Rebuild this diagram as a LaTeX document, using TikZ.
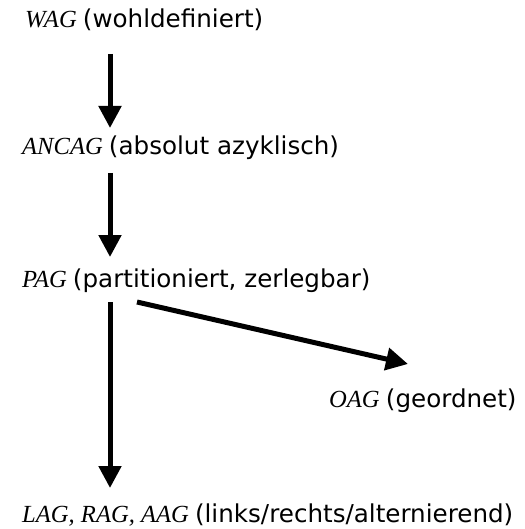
\documentclass[tikz,border=0pt]{standalone}
\usepackage{fontspec}
\setmainfont{Liberation Serif}
\newfontfamily\casual{DejaVu Sans}
\usetikzlibrary{arrows.meta,calc}

\tikzset{
  lbl/.style={anchor=base west, inner sep=0pt,
    font=\fontsize{24.6}{28}\selectfont},
  arr/.style={line width=5pt, -{Triangle[length=22pt,width=22pt]}}
}
% class name in italics, description in a plain sans face
\newcommand{\agclass}[2]{\textit{#1} {\casual #2}}

\begin{document}
\begin{tikzpicture}[x=1pt,y=-1pt]
  \useasboundingbox (0,0) rectangle (524,529);

  \node[lbl] (wag)   at (25,28)   {\agclass{WAG}{(wohldefiniert)}};
  \node[lbl] (ancag) at (22,155)  {\agclass{ANCAG}{(absolut azyklisch)}};
  \node[lbl] (pag)   at (22,287)  {\agclass{PAG}{(partitioniert, zerlegbar)}};
  \node[lbl] (oag)   at (329,407) {\agclass{OAG}{(geordnet)}};
  \node[lbl] (lag)   at (22,522)  {\agclass{LAG, RAG, AAG}{(links/rechts/alternierend)}};

  % inclusion hierarchy
  \draw[arr] ($(wag.base west)+(85,26)$)   -- ($(ancag.base west)+(88,-27)$);
  \draw[arr] ($(ancag.base west)+(88,18)$) -- ($(pag.base west)+(88,-30)$);
  \draw[arr] ($(pag.base west)+(88,15)$)   -- ($(lag.base west)+(88,-34)$);
  \draw[arr] ($(pag.base west)+(115,15)$)  -- ($(oag.base west)+(79,-43)$);
\end{tikzpicture}
\end{document}
